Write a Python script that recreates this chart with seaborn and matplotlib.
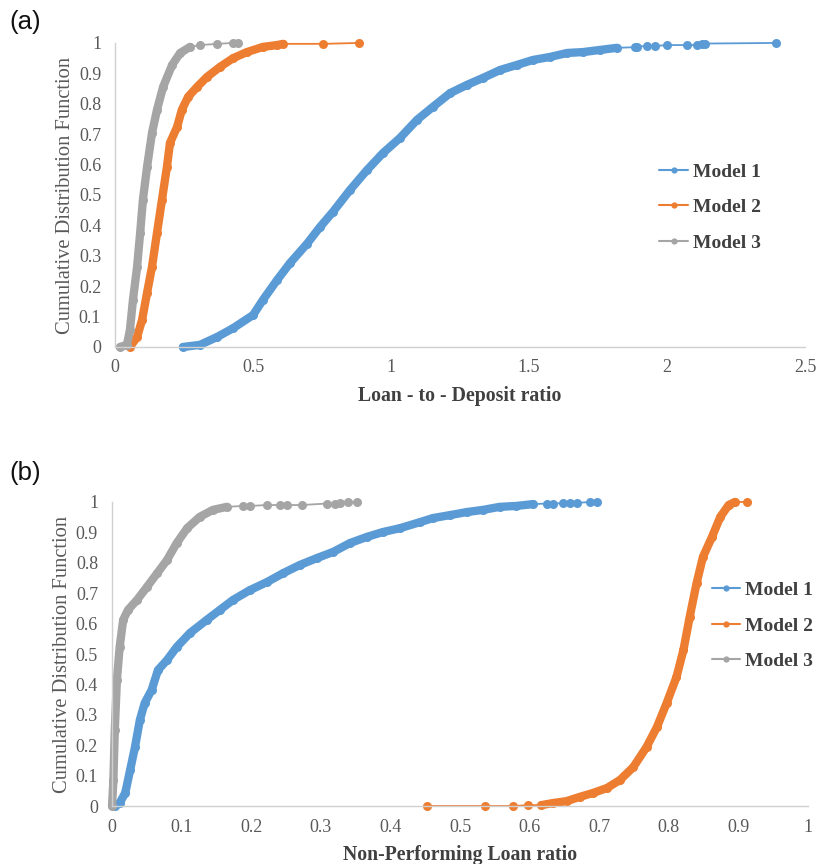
import numpy as np
import pandas as pd
import matplotlib
matplotlib.use("Agg")
import matplotlib.pyplot as plt
from matplotlib.lines import Line2D
import seaborn as sns

# ---------------- data ----------------
labels = ["Model 1", "Model 2", "Model 3"]

# Panel (a): Loan-to-Deposit ratio
a_m1_x = [0.246, 0.308, 0.37, 0.428, 0.5, 0.536, 0.587, 0.634, 0.696, 0.743, 0.79, 0.851, 0.913,
          0.971, 1.033, 1.094, 1.152, 1.214, 1.275, 1.333, 1.395, 1.457, 1.514, 1.576, 1.638,
          1.696, 1.757, 1.819, 1.884, 1.891, 1.928, 1.957, 2.0, 2.072, 2.109, 2.127, 2.138, 2.395]
a_m1_y = [0.0, 0.007, 0.033, 0.062, 0.105, 0.155, 0.22, 0.276, 0.34, 0.395, 0.445, 0.516, 0.582,
          0.638, 0.688, 0.747, 0.79, 0.835, 0.862, 0.885, 0.911, 0.928, 0.944, 0.954, 0.967,
          0.97, 0.977, 0.984, 0.986, 0.988, 0.99, 0.99, 0.993, 0.993, 0.993, 0.995, 0.998, 1.0]
a_m2_x = [0.054, 0.08, 0.098, 0.116, 0.134, 0.152, 0.17, 0.188, 0.199, 0.225, 0.242, 0.265,
          0.297, 0.333, 0.38, 0.428, 0.478, 0.536, 0.587, 0.609, 0.754, 0.884]
a_m2_y = [0.0, 0.033, 0.089, 0.178, 0.264, 0.375, 0.484, 0.592, 0.671, 0.724, 0.78, 0.823,
          0.855, 0.888, 0.921, 0.95, 0.97, 0.987, 0.993, 0.997, 0.997, 1.0]
a_m3_x = [0.018, 0.043, 0.054, 0.065, 0.08, 0.091, 0.101, 0.116, 0.134, 0.152, 0.174, 0.207,
          0.236, 0.272, 0.308, 0.37, 0.428, 0.446]
a_m3_y = [0.0, 0.007, 0.056, 0.155, 0.264, 0.375, 0.484, 0.592, 0.704, 0.78, 0.855, 0.928,
          0.967, 0.987, 0.993, 0.997, 1.0, 1.0]

# Panel (b): Non-Performing Loan ratio
b_m1_x = [0.004, 0.011, 0.019, 0.026, 0.033, 0.04, 0.047, 0.057, 0.066, 0.079, 0.093, 0.112,
          0.136, 0.155, 0.174, 0.198, 0.223, 0.246, 0.27, 0.295, 0.318, 0.342, 0.366, 0.389,
          0.414, 0.443, 0.461, 0.486, 0.51, 0.533, 0.557, 0.581, 0.605, 0.625, 0.634, 0.648,
          0.658, 0.668, 0.687, 0.697]
b_m1_y = [0.0, 0.01, 0.043, 0.118, 0.194, 0.283, 0.339, 0.382, 0.447, 0.48, 0.523, 0.569,
          0.612, 0.645, 0.678, 0.71, 0.737, 0.766, 0.793, 0.816, 0.836, 0.865, 0.885, 0.901,
          0.914, 0.934, 0.947, 0.957, 0.967, 0.974, 0.984, 0.987, 0.993, 0.995, 0.995, 0.996,
          0.996, 0.997, 1.0, 1.0]
b_m2_x = [0.452, 0.536, 0.576, 0.598, 0.617, 0.634, 0.653, 0.672, 0.691, 0.711, 0.73, 0.749,
          0.768, 0.783, 0.797, 0.811, 0.821, 0.83, 0.84, 0.849, 0.862, 0.874, 0.886, 0.895, 0.912]
b_m2_y = [0.0, 0.0, 0.0, 0.003, 0.003, 0.01, 0.016, 0.03, 0.043, 0.059, 0.086, 0.128,
          0.194, 0.26, 0.339, 0.424, 0.513, 0.622, 0.734, 0.819, 0.885, 0.951, 0.99, 1.0, 1.0]
b_m3_x = [0.0, 0.002, 0.004, 0.007, 0.011, 0.016, 0.023, 0.036, 0.05, 0.065, 0.079, 0.093,
          0.108, 0.126, 0.145, 0.165, 0.188, 0.198, 0.223, 0.241, 0.251, 0.273, 0.309, 0.32,
          0.328, 0.339, 0.352]
b_m3_y = [0.0, 0.086, 0.25, 0.414, 0.523, 0.612, 0.645, 0.678, 0.72, 0.766, 0.809, 0.865,
          0.914, 0.951, 0.974, 0.984, 0.987, 0.987, 0.99, 0.99, 0.99, 0.99, 0.995, 0.995,
          0.997, 1.0, 1.0]

a_xticks = [0, 0.5, 1, 1.5, 2, 2.5]
b_xticks = [0, 0.1, 0.2, 0.3, 0.4, 0.5, 0.6, 0.7, 0.8, 0.9, 1]
yticks = [0, 0.1, 0.2, 0.3, 0.4, 0.5, 0.6, 0.7, 0.8, 0.9, 1]

# ---------------- style ----------------
sns.set_theme(style="white")
plt.rcParams["font.family"] = ["Liberation Serif", "DejaVu Serif"]
colors = ["#5B9BD5", "#ED7D31", "#A5A5A5"]
# x-range in which markers overlap into a solid band
dense_a = [(0.0, 1.83), (0.0, 0.61), (0.0, 0.28)]
dense_b = [(0.0, 0.61), (0.61, 0.90), (0.0, 0.17)]

fig = plt.figure(figsize=(8.17, 8.64), dpi=100)
ax_a = fig.add_axes([0.1408, 0.5984, 0.8446, 0.3519])
ax_b = fig.add_axes([0.1371, 0.0671, 0.8519, 0.3519])

def draw(ax, series, dense, xmax, xticks, xlabel, leg_anchor):
    for (x, y), c, (lo, hi), lab in zip(series, colors, dense, labels):
        df = pd.DataFrame({"x": x, "y": y})
        sns.lineplot(data=df, x="x", y="y", ax=ax, color=c, sort=False,
                     marker="o", markersize=6.5, markeredgewidth=0, lw=1.3,
                     clip_on=False, label=lab, legend=False)
        dd = df[(df.x >= lo) & (df.x <= hi)]
        sns.lineplot(data=dd, x="x", y="y", ax=ax, color=c, sort=False,
                     lw=6.0, clip_on=False, legend=False,
                     solid_capstyle="round", solid_joinstyle="round")
    ax.set_xlim(0, xmax)
    ax.set_ylim(0, 1)
    ax.set_xticks(xticks)
    ax.set_yticks(yticks)
    ax.set_xticklabels([f"{t:g}" for t in xticks])
    ax.set_yticklabels([f"{t:g}" for t in yticks])
    ax.tick_params(axis="both", length=0, labelsize=13, labelcolor="#595959")
    ax.tick_params(axis="x", pad=9)
    ax.tick_params(axis="y", pad=10)
    for s in ["top", "right"]:
        ax.spines[s].set_visible(False)
    for s in ["left", "bottom"]:
        ax.spines[s].set_color("#D0D0D0")
        ax.spines[s].set_linewidth(1.0)
    ax.set_xlabel(xlabel, fontsize=14.2, fontweight="bold", color="#404040", labelpad=7)
    ax.set_ylabel("Cumulative Distribution Function", fontsize=14.8, color="#595959", labelpad=3)
    handles = [Line2D([0], [0], color=c, lw=1.5, marker="o", markersize=4.5,
                      markeredgewidth=0) for c in colors]
    ax.legend(handles, labels, loc="center left", bbox_to_anchor=leg_anchor,
              frameon=False, handlelength=1.45, handletextpad=0.25, labelspacing=0.93,
              prop={"family": "Liberation Serif", "weight": "bold", "size": 14},
              labelcolor="#404040", borderaxespad=0.0, borderpad=0.0)

draw(ax_a, [(a_m1_x, a_m1_y), (a_m2_x, a_m2_y), (a_m3_x, a_m3_y)], dense_a, 2.5,
     a_xticks, "Loan - to - Deposit ratio", (0.789, 0.459))
draw(ax_b, [(b_m1_x, b_m1_y), (b_m2_x, b_m2_y), (b_m3_x, b_m3_y)], dense_b, 1.0,
     b_xticks, "Non-Performing Loan ratio", (0.862, 0.593))

fig.text(0.012, 0.975, "(a)", fontsize=18.5, family="Liberation Sans", va="center", color="#111111")
fig.text(0.012, 0.453, "(b)", fontsize=18.5, family="Liberation Sans", va="center", color="#111111")

fig.savefig("out.png", dpi=100)
